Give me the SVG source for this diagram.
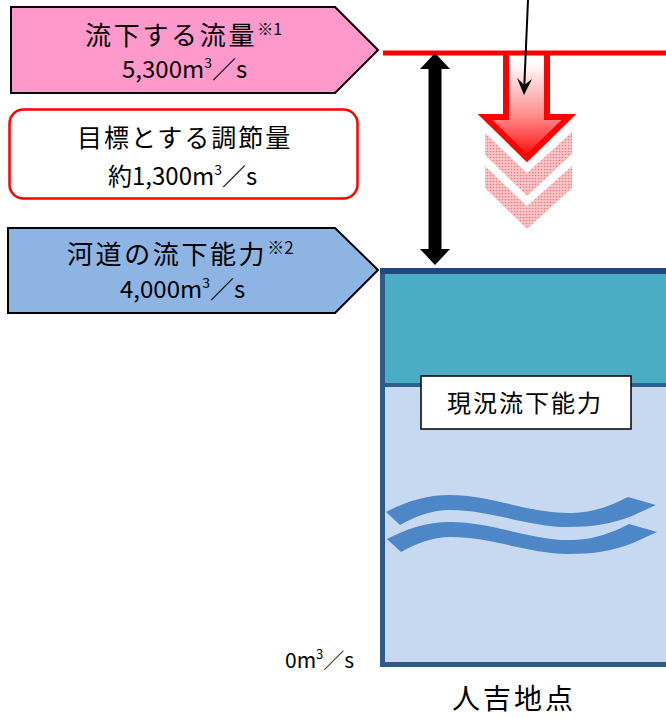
<svg xmlns="http://www.w3.org/2000/svg" width="666" height="718" viewBox="0 0 666 718">
<style>
text{font-family:"Noto Sans CJK JP","Liberation Sans",sans-serif;fill:#000}
.pent{stroke:#000;stroke-width:2;stroke-linejoin:miter}
</style>
<defs>
<linearGradient id="redgrad" gradientUnits="userSpaceOnUse" x1="0" y1="62" x2="0" y2="160">
<stop offset="0" stop-color="#ffffff"/>
<stop offset="0.55" stop-color="#ff8c8c"/>
<stop offset="1" stop-color="#ff0000"/>
</linearGradient>
<pattern id="dots" width="3" height="3" patternUnits="userSpaceOnUse">
<rect width="3" height="3" fill="#fcc8ca"/>
<circle cx="1.5" cy="1.5" r="0.85" fill="#f07880"/>
</pattern>
</defs>
<rect width="666" height="718" fill="#fff"/>

<g id="node-flow">
<polygon class="pent" points="11,7 335,7 378,50 335,93 11,93" fill="#ff99cc"/>
<text x="85" y="45" font-size="26" letter-spacing="2.7">流下する流量<tspan font-size="16" dy="-10" letter-spacing="0">※1</tspan></text>
<text x="122" y="78" font-size="24">5,300m<tspan font-size="14" dy="-10">3</tspan><tspan dy="10">／s</tspan></text>
</g>

<g id="node-target">
<rect x="9.5" y="109.5" width="348" height="89" rx="14" fill="#fff" stroke="#ff0000" stroke-width="2.5"/>
<text x="77" y="147" font-size="25" letter-spacing="2">目標とする調節量</text>
<text x="108" y="185" font-size="24">約1,300m<tspan font-size="14" dy="-10">3</tspan><tspan dy="10">／s</tspan></text>
</g>

<g id="node-capacity">
<polygon class="pent" points="8,228 335,228 378,270 335,313 8,313" fill="#8db4e2"/>
<text x="67" y="264" font-size="26" letter-spacing="2.6">河道の流下能力<tspan font-size="17" dy="-10" letter-spacing="0">※2</tspan></text>
<text x="120" y="298" font-size="24">4,000m<tspan font-size="14" dy="-10">3</tspan><tspan dy="10">／s</tspan></text>
</g>

<g id="node-river">
<rect x="382.5" y="271" width="290" height="115" fill="#4bacc6"/>
<rect x="382.5" y="386" width="290" height="278.5" fill="#c6d9f1"/>
<line x1="382" y1="385" x2="666" y2="385" stroke="#2f5d8e" stroke-width="4"/>
<rect x="382.5" y="271" width="290" height="393.5" fill="none" stroke="#2e5a8c" stroke-width="5"/>
<line x1="380" y1="271" x2="666" y2="271" stroke="#1f497d" stroke-width="6"/>
<g id="waves" fill="#4d87c7">
<path d="M386,512 C405,502 425,495 450,495 C490,495 530,513 567,513 C595,513 612,505 628,497 L656,505 L632,516 C612,524 592,527 567,527 C530,527 490,510 450,510 C430,510 415,517 400,525 Z"/>
<path transform="translate(1,27)" d="M386,512 C405,502 425,495 450,495 C490,495 530,513 567,513 C595,513 612,505 628,497 L656,505 L632,516 C612,524 592,527 567,527 C530,527 490,510 450,510 C430,510 415,517 400,525 Z"/>
</g>
<rect x="421" y="376" width="210" height="53" fill="#fff" stroke="#000" stroke-width="1.5"/>
<text x="447" y="412" font-size="24" letter-spacing="2">現況流下能力</text>
</g>

<g id="node-chevrons" fill="url(#dots)">
<polygon points="485,133 527,173 572,132 572,154 527,196 485,155"/>
<polygon points="485,166 527,206 572,166 572,188 527,229 485,188"/>
</g>

<g id="node-reduction">
<path d="M506,55 L506,117 L485,117 L527,158 L569,117 L547,117 L547,55" fill="url(#redgrad)" stroke="#ff0000" stroke-width="6" stroke-linejoin="miter"/>
</g>

<g id="connectors">
<line x1="383" y1="53" x2="666" y2="53" stroke="#ff0000" stroke-width="5"/>
<polygon points="435,53 450,69 441.5,69 441.5,249 450,249 435,265 420,249 428.5,249 428.5,69 420,69" fill="#000"/>
<line x1="528" y1="0" x2="524.3" y2="86" stroke="#000" stroke-width="2"/>
<polygon points="524,95 517,78 524.3,85 532,79" fill="#000"/>
</g>

<g id="labels">
<text x="285" y="668" font-size="21">0m<tspan font-size="13" dy="-9">3</tspan><tspan dy="9">／s</tspan></text>
<text x="452" y="709" font-size="28" letter-spacing="3">人吉地点</text>
</g>
</svg>
